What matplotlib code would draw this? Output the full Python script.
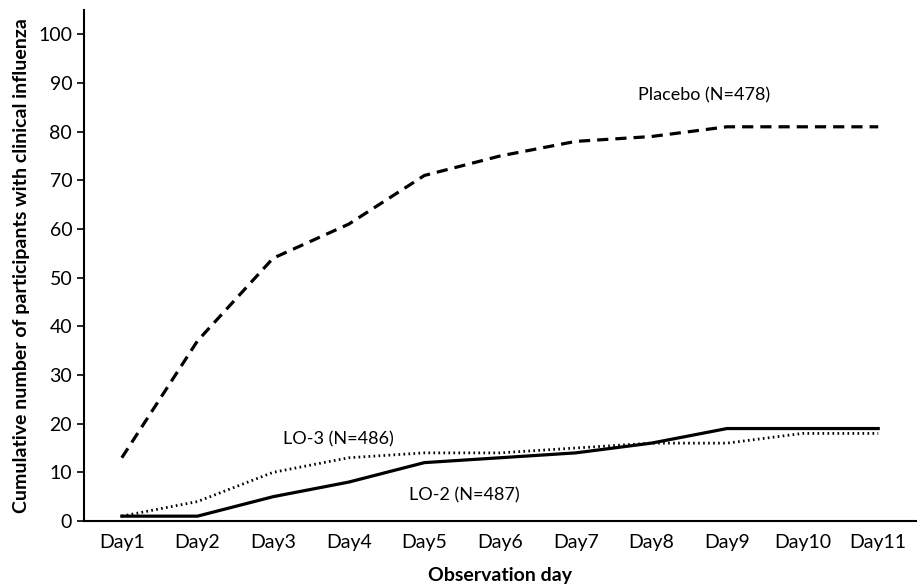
import matplotlib
matplotlib.use("Agg")
import matplotlib.pyplot as plt

days = ["Day1", "Day2", "Day3", "Day4", "Day5", "Day6", "Day7", "Day8", "Day9", "Day10", "Day11"]
placebo = [13, 37, 54, 61, 71, 75, 78, 79, 81, 81, 81]
lo2 = [1, 1, 5, 8, 12, 13, 14, 16, 19, 19, 19]
lo3 = [1, 4, 10, 13, 14, 14, 15, 16, 16, 18, 18]
yticks = [0, 10, 20, 30, 40, 50, 60, 70, 80, 90, 100]

plt.rcParams['font.family'] = ['Lato', 'DejaVu Sans']

fig = plt.figure(figsize=(9.2, 5.87), dpi=100)
ax = fig.add_axes([0.0913, 0.1124, 0.9044, 0.8706])
x = list(range(len(days)))
ax.plot(x, placebo, color='black', lw=2.3, linestyle=(0, (3.5, 2.2)))
ax.plot(x, lo2, color='black', lw=2.3, linestyle='-')
ax.plot(x, lo3, color='black', lw=2.0, linestyle=(0, (0.6, 1.2)))

ax.set_xlim(-0.5, len(days) - 0.5)
ax.set_ylim(0, 105)
ax.set_xticks(x)
ax.set_xticklabels(days, fontsize=14)
ax.set_yticks(yticks)
ax.tick_params(axis='y', labelsize=14, length=5, width=1.2, direction='out')
ax.tick_params(axis='x', length=0, pad=9)
for s in ['top', 'right']:
    ax.spines[s].set_visible(False)
ax.spines['left'].set_linewidth(1.5)
ax.spines['bottom'].set_linewidth(1.5)

ax.text(7.7, 87.4, "Placebo (N=478)", fontsize=13, ha='center', va='center')
ax.text(2.86, 16.7, "LO-3 (N=486)", fontsize=13, ha='center', va='center')
ax.text(4.53, 5.3, "LO-2 (N=487)", fontsize=13, ha='center', va='center')

ax.set_xlabel("Observation day", fontsize=14, fontweight='bold', labelpad=12)
ax.set_ylabel("Cumulative number of participants with clinical influenza", fontsize=14, fontweight='bold', labelpad=6)

fig.savefig("out.png", dpi=100)
